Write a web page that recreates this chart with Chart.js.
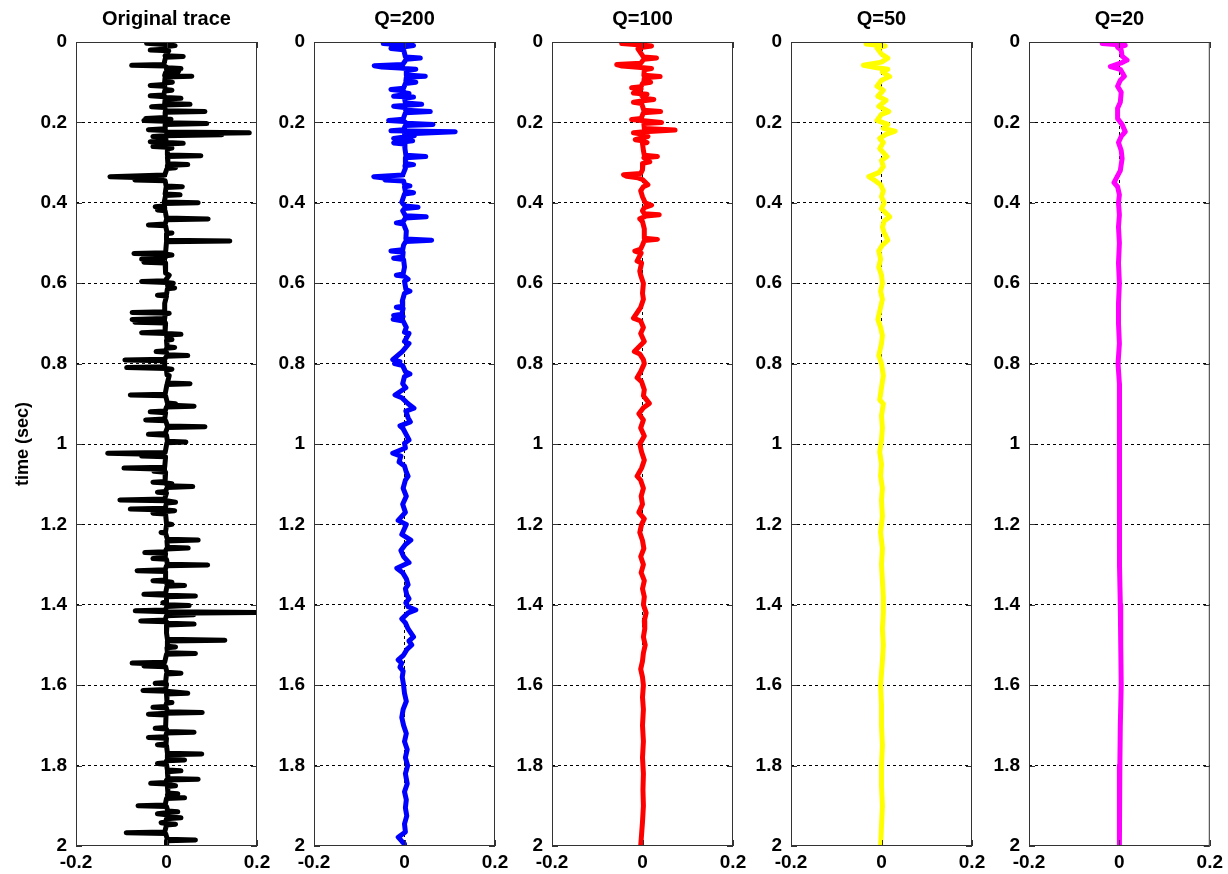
<!DOCTYPE html>
<html>
<head>
<meta charset="utf-8">
<title>Q attenuation traces</title>
<script src="https://cdn.jsdelivr.net/npm/chart.js@4.4.0/dist/chart.umd.min.js"></script>
<style>
    body { margin: 0; background: #fff; }
    #wrap { position: relative; width: 1228px; height: 874px; }
    #wrap canvas { position: absolute; left: 0; top: 0; }
</style>
</head>
<body>
<div id="wrap"></div>
<script>
// [time (s), amplitude] samples
var origTrace = [
    [0.000, -0.012],
    [0.003, -0.044], [0.006, -0.004], [0.009, 0.019], [0.012, -0.002],
    [0.018, -0.004], [0.020, -0.036], [0.022, 0.005],
    [0.034, -0.003], [0.036, 0.037], [0.038, -0.002],
    [0.056, -0.006], [0.058, -0.077], [0.060, -0.004],
    [0.064, 0.002], [0.066, 0.032], [0.068, 0.000], [0.070, 0.028], [0.074, 0.026], [0.076, -0.002],
    [0.083, -0.004], [0.085, 0.056], [0.087, -0.003],
    [0.098, -0.004], [0.100, 0.013], [0.102, -0.005],
    [0.106, -0.005], [0.108, -0.036], [0.110, -0.004],
    [0.118, -0.003], [0.120, 0.012], [0.122, -0.004],
    [0.132, -0.006], [0.134, -0.036], [0.136, -0.004],
    [0.138, -0.002], [0.140, 0.032], [0.142, -0.003],
    [0.153, -0.004], [0.155, 0.052], [0.157, -0.003],
    [0.159, -0.005], [0.161, -0.033], [0.163, -0.004],
    [0.171, -0.002], [0.173, 0.085], [0.175, -0.002],
    [0.188, -0.003], [0.190, -0.046], [0.192, 0.010], [0.195, -0.050], [0.197, -0.004],
    [0.201, -0.002], [0.203, 0.089], [0.205, -0.002],
    [0.216, -0.003], [0.218, -0.040], [0.220, -0.002],
    [0.224, 0.000], [0.226, 0.183], [0.229, 0.000], [0.231, 0.122], [0.233, -0.004], [0.235, -0.030], [0.237, -0.002],
    [0.246, -0.001], [0.248, -0.036], [0.250, 0.000], [0.252, 0.037], [0.254, 0.000],
    [0.258, 0.001], [0.260, -0.030], [0.262, 0.001], [0.264, 0.012], [0.266, 0.002],
    [0.281, 0.002], [0.283, 0.076], [0.285, 0.002],
    [0.303, 0.003], [0.305, 0.047], [0.307, 0.002],
    [0.311, 0.002], [0.313, 0.020], [0.315, 0.001],
    [0.331, -0.004], [0.335, -0.125], [0.339, -0.010], [0.343, -0.070], [0.345, -0.003],
    [0.358, -0.001], [0.360, 0.035], [0.362, -0.001],
    [0.378, -0.003], [0.380, 0.030], [0.382, -0.002],
    [0.398, -0.005], [0.400, 0.070], [0.402, -0.004],
    [0.408, -0.006], [0.410, -0.025], [0.412, -0.005],
    [0.416, -0.004], [0.418, -0.020], [0.420, -0.003],
    [0.438, 0.000], [0.440, 0.092], [0.442, 0.000],
    [0.453, -0.003], [0.455, -0.040], [0.457, -0.002],
    [0.473, 0.001], [0.475, 0.012], [0.477, 0.000],
    [0.493, 0.000], [0.495, 0.140], [0.497, 0.000],
    [0.524, -0.002], [0.526, -0.072], [0.528, 0.000], [0.530, 0.012], [0.532, 0.000],
    [0.538, -0.004], [0.540, -0.055], [0.544, -0.020], [0.548, -0.050], [0.550, -0.003],
    [0.575, -0.002], [0.580, 0.006],
    [0.594, -0.003], [0.596, -0.055], [0.598, 0.000], [0.600, 0.015], [0.602, 0.002],
    [0.610, 0.003], [0.612, 0.018], [0.614, 0.002],
    [0.628, 0.000], [0.630, -0.020], [0.632, 0.000],
    [0.650, -0.004],
    [0.671, -0.004], [0.673, -0.076], [0.675, 0.006], [0.677, -0.003],
    [0.688, -0.004], [0.690, -0.076], [0.693, -0.010], [0.697, -0.070], [0.699, -0.002],
    [0.721, -0.003], [0.723, -0.055], [0.725, 0.000], [0.727, 0.032], [0.729, 0.000],
    [0.738, 0.001], [0.740, 0.012], [0.742, 0.000],
    [0.758, 0.001], [0.760, 0.018], [0.762, 0.000],
    [0.768, -0.002], [0.770, -0.023], [0.772, 0.000],
    [0.778, 0.002], [0.780, 0.047], [0.782, 0.000],
    [0.789, -0.004], [0.791, -0.092], [0.793, -0.004],
    [0.808, -0.004], [0.810, -0.088], [0.812, 0.000], [0.814, 0.012], [0.816, 0.000],
    [0.828, 0.001], [0.830, 0.006],
    [0.848, 0.002], [0.850, 0.052], [0.852, 0.001],
    [0.876, -0.003], [0.878, -0.080], [0.880, -0.002],
    [0.898, 0.002], [0.900, 0.020], [0.903, 0.002], [0.906, 0.061], [0.908, 0.000],
    [0.918, -0.003], [0.920, -0.036], [0.922, -0.002],
    [0.938, -0.004], [0.940, -0.046], [0.942, -0.002],
    [0.955, 0.002], [0.957, 0.085], [0.959, 0.002],
    [0.974, -0.003], [0.976, -0.040], [0.978, 0.000],
    [0.993, 0.002], [0.995, 0.043], [0.997, 0.001],
    [1.021, -0.003], [1.023, -0.130], [1.026, -0.010], [1.030, -0.055], [1.032, -0.002],
    [1.058, -0.004], [1.060, -0.094], [1.063, -0.006], [1.068, -0.028], [1.070, -0.002],
    [1.093, -0.003], [1.095, -0.030], [1.097, 0.000], [1.099, 0.012], [1.101, 0.000],
    [1.104, 0.002], [1.106, 0.058], [1.108, 0.002],
    [1.118, -0.003], [1.120, -0.020], [1.122, 0.000],
    [1.137, -0.004], [1.139, -0.103], [1.141, 0.000], [1.145, 0.020], [1.147, 0.000],
    [1.160, -0.003], [1.162, -0.080], [1.164, 0.000], [1.166, 0.018], [1.168, -0.002], [1.172, -0.030], [1.174, -0.002],
    [1.198, 0.000], [1.200, 0.012], [1.202, 0.000],
    [1.218, -0.002], [1.220, -0.012], [1.222, -0.002],
    [1.237, 0.002], [1.239, 0.070], [1.241, 0.001],
    [1.257, 0.002], [1.259, 0.048], [1.261, 0.000],
    [1.268, -0.003], [1.270, -0.048], [1.272, -0.002],
    [1.283, -0.003], [1.285, -0.030], [1.287, 0.000],
    [1.299, 0.002], [1.301, 0.091], [1.303, 0.000],
    [1.313, -0.003], [1.315, -0.065], [1.317, -0.002],
    [1.338, -0.002], [1.340, -0.030], [1.342, 0.000], [1.344, 0.012], [1.346, 0.000],
    [1.350, 0.002], [1.352, 0.040], [1.354, 0.001],
    [1.372, -0.002], [1.374, -0.050], [1.376, 0.000], [1.378, 0.064], [1.380, 0.000],
    [1.393, 0.000], [1.395, -0.008], [1.397, 0.000],
    [1.400, 0.002], [1.402, 0.050], [1.404, 0.001],
    [1.413, -0.003], [1.415, -0.069], [1.417, 0.000], [1.419, 0.200], [1.421, 0.002], [1.425, 0.060], [1.427, 0.000],
    [1.438, -0.003], [1.440, -0.057], [1.442, 0.000],
    [1.446, 0.002], [1.448, 0.061], [1.450, 0.001],
    [1.470, 0.000],
    [1.486, 0.002], [1.488, 0.129], [1.490, 0.002],
    [1.503, 0.002], [1.505, 0.020], [1.507, 0.001],
    [1.519, 0.002], [1.521, 0.064], [1.523, 0.000],
    [1.543, -0.004], [1.545, -0.076], [1.548, -0.008], [1.552, -0.050], [1.554, -0.002],
    [1.568, 0.001], [1.570, 0.032], [1.572, 0.000],
    [1.593, -0.002], [1.595, -0.025], [1.597, 0.000],
    [1.611, -0.002], [1.613, -0.052], [1.615, 0.000], [1.620, 0.047], [1.622, 0.000],
    [1.641, 0.001], [1.643, 0.012], [1.645, 0.000],
    [1.653, -0.002], [1.655, -0.030], [1.657, 0.000],
    [1.666, 0.002], [1.668, 0.079], [1.670, 0.000], [1.672, -0.040], [1.674, -0.001],
    [1.705, -0.002], [1.707, -0.025], [1.709, 0.000],
    [1.715, 0.002], [1.717, 0.061], [1.719, 0.000],
    [1.728, -0.002], [1.730, -0.040], [1.732, 0.000],
    [1.746, -0.001], [1.748, -0.020], [1.750, 0.000],
    [1.769, 0.002], [1.771, 0.078], [1.773, 0.002],
    [1.784, 0.002], [1.786, 0.040], [1.788, 0.000],
    [1.793, -0.002], [1.795, -0.020], [1.797, 0.000],
    [1.811, 0.002], [1.813, 0.032], [1.815, 0.002],
    [1.832, 0.003], [1.834, 0.070], [1.836, 0.000],
    [1.842, -0.002], [1.844, -0.035], [1.846, 0.000], [1.850, 0.020], [1.852, 0.002],
    [1.868, 0.003], [1.870, 0.025], [1.872, 0.002],
    [1.878, 0.003], [1.880, 0.040], [1.882, 0.000],
    [1.898, -0.003], [1.900, -0.063], [1.902, 0.000],
    [1.913, 0.003], [1.915, 0.025], [1.917, 0.000], [1.920, -0.020], [1.922, 0.000],
    [1.928, 0.002], [1.930, 0.032], [1.932, 0.000],
    [1.940, -0.002], [1.942, -0.012], [1.944, 0.000], [1.946, 0.020], [1.948, 0.000],
    [1.965, -0.004], [1.967, -0.089], [1.969, -0.002],
    [1.983, 0.002], [1.985, 0.064], [1.987, 0.001],
    [2.000, 0.000]
];

var q200Trace = [
    [0.000, -0.005],
    [0.004, -0.047], [0.007, -0.010], [0.009, 0.020], [0.012, 0.000], [0.016, -0.030], [0.019, -0.002],
    [0.037, 0.002], [0.040, 0.035], [0.043, 0.004],
    [0.056, -0.004], [0.059, -0.067], [0.062, -0.050], [0.065, -0.010], [0.068, 0.025], [0.071, 0.004],
    [0.082, 0.004], [0.085, 0.046], [0.088, 0.004],
    [0.097, 0.003], [0.100, 0.025], [0.103, 0.002],
    [0.115, -0.002], [0.118, -0.030], [0.121, -0.003],
    [0.126, 0.000], [0.128, 0.010], [0.131, -0.002], [0.135, -0.024], [0.137, 0.020], [0.140, 0.000],
    [0.152, 0.002], [0.155, 0.038], [0.158, -0.003], [0.160, -0.024], [0.163, 0.000],
    [0.170, 0.003], [0.173, 0.057], [0.176, 0.002],
    [0.192, -0.003], [0.195, -0.035], [0.198, 0.000],
    [0.202, 0.004], [0.205, 0.063], [0.208, 0.002],
    [0.218, -0.002], [0.221, -0.030], [0.223, 0.112], [0.226, 0.060], [0.229, 0.000],
    [0.233, 0.022], [0.236, 0.000], [0.240, -0.024], [0.243, -0.002],
    [0.246, 0.018], [0.249, -0.004], [0.251, -0.024], [0.254, 0.000],
    [0.265, 0.001],
    [0.282, 0.003], [0.285, 0.047], [0.288, 0.003],
    [0.302, 0.002], [0.305, 0.020], [0.308, 0.001],
    [0.314, 0.002],
    [0.331, -0.004], [0.335, -0.068], [0.339, -0.040], [0.343, -0.043], [0.346, -0.002],
    [0.355, 0.000], [0.358, 0.012], [0.361, 0.000],
    [0.372, 0.002], [0.375, 0.020], [0.378, 0.000],
    [0.398, -0.006], [0.402, -0.004],
    [0.408, 0.002], [0.411, 0.030], [0.414, 0.000],
    [0.420, -0.004],
    [0.432, 0.002], [0.435, 0.048], [0.438, 0.002],
    [0.447, -0.003], [0.450, -0.018], [0.453, -0.002],
    [0.470, 0.004],
    [0.490, 0.003], [0.493, 0.060], [0.496, 0.003],
    [0.505, -0.002],
    [0.517, -0.004], [0.520, -0.030], [0.523, -0.003],
    [0.535, -0.004], [0.538, -0.024], [0.541, -0.002],
    [0.560, 0.000],
    [0.577, -0.003], [0.580, -0.018], [0.583, 0.000],
    [0.590, 0.008], [0.595, 0.000],
    [0.615, 0.003], [0.620, 0.012], [0.625, 0.000],
    [0.645, -0.005],
    [0.657, -0.004], [0.660, -0.018], [0.663, -0.003],
    [0.677, -0.006], [0.680, -0.024], [0.683, -0.003], [0.690, -0.025], [0.694, -0.003],
    [0.710, 0.004], [0.722, 0.000], [0.725, 0.010],
    [0.745, 0.000], [0.750, 0.010], [0.770, -0.005],
    [0.790, -0.026], [0.795, -0.010], [0.800, -0.022], [0.805, -0.004],
    [0.820, 0.002], [0.826, 0.012], [0.832, 0.000],
    [0.850, -0.004], [0.860, 0.003],
    [0.878, -0.021], [0.885, -0.006],
    [0.900, 0.008], [0.911, 0.021], [0.918, 0.003],
    [0.935, 0.008], [0.945, 0.013], [0.955, -0.010], [0.962, -0.003],
    [0.975, 0.003], [0.990, 0.010], [0.998, 0.000], [1.010, 0.002],
    [1.023, -0.026], [1.030, -0.008], [1.045, -0.012], [1.055, 0.000],
    [1.070, 0.004], [1.080, 0.008], [1.090, 0.002],
    [1.110, -0.003], [1.130, 0.004], [1.150, -0.004], [1.170, 0.002],
    [1.190, -0.014], [1.200, 0.004], [1.210, 0.000], [1.225, -0.006],
    [1.239, 0.014], [1.250, 0.002], [1.265, -0.008], [1.280, -0.002],
    [1.295, 0.010], [1.309, -0.017], [1.320, -0.004],
    [1.335, 0.004], [1.350, 0.008], [1.360, 0.002],
    [1.375, 0.005], [1.385, 0.010], [1.395, 0.003],
    [1.405, 0.008], [1.413, 0.025], [1.420, 0.008],
    [1.435, -0.006], [1.445, 0.002],
    [1.460, 0.008], [1.480, 0.020], [1.490, 0.010], [1.500, 0.016], [1.510, 0.006],
    [1.525, -0.002], [1.537, -0.014], [1.545, -0.006], [1.555, -0.010], [1.565, -0.003],
    [1.580, -0.005], [1.600, -0.002], [1.620, 0.000], [1.640, 0.004],
    [1.660, -0.003], [1.680, -0.006], [1.700, -0.002], [1.720, 0.004],
    [1.740, 0.000], [1.760, 0.006], [1.780, 0.002], [1.800, 0.007],
    [1.820, 0.002], [1.845, 0.006], [1.865, 0.000], [1.885, 0.004],
    [1.905, 0.002], [1.925, 0.005], [1.945, 0.000], [1.965, 0.002],
    [1.978, -0.014], [1.988, -0.006], [1.995, 0.000], [2.000, 0.000]
];

var q100Trace = [
    [0.000, -0.004],
    [0.004, -0.046], [0.007, -0.010], [0.010, 0.020], [0.013, 0.000], [0.017, -0.010],
    [0.037, 0.002], [0.040, 0.031], [0.043, 0.003],
    [0.053, -0.004], [0.056, -0.057], [0.060, -0.045], [0.063, -0.010], [0.066, 0.020], [0.069, 0.004],
    [0.083, 0.003], [0.086, 0.039], [0.089, 0.004],
    [0.098, 0.003], [0.100, 0.018], [0.103, 0.000],
    [0.111, -0.003], [0.114, -0.024], [0.117, -0.003],
    [0.127, -0.020], [0.130, 0.010], [0.133, -0.002],
    [0.140, 0.003], [0.143, 0.025], [0.146, 0.002], [0.150, -0.020], [0.153, -0.002],
    [0.170, 0.003], [0.173, 0.040], [0.176, 0.002],
    [0.190, -0.003], [0.193, -0.024], [0.196, 0.003], [0.200, 0.042], [0.203, 0.003],
    [0.215, 0.004], [0.219, 0.072], [0.223, 0.004],
    [0.226, -0.020], [0.229, -0.002], [0.235, 0.012], [0.238, 0.000],
    [0.243, -0.016], [0.246, 0.000], [0.250, 0.010], [0.253, 0.000],
    [0.270, 0.002],
    [0.282, 0.004], [0.285, 0.033], [0.288, 0.003],
    [0.298, 0.016], [0.302, 0.001], [0.318, 0.000],
    [0.327, -0.004], [0.330, -0.042], [0.334, -0.035], [0.338, -0.010], [0.342, 0.000],
    [0.355, 0.012], [0.360, 0.002], [0.370, -0.004], [0.385, 0.000],
    [0.400, 0.006], [0.406, 0.020], [0.412, 0.004], [0.420, 0.000],
    [0.427, 0.004], [0.430, 0.037], [0.433, 0.008],
    [0.440, -0.006], [0.447, 0.000], [0.465, 0.004],
    [0.488, 0.004], [0.491, 0.033], [0.494, 0.004],
    [0.505, 0.000],
    [0.515, -0.004], [0.520, -0.017], [0.525, -0.003],
    [0.545, -0.012], [0.550, -0.002], [0.570, -0.006], [0.580, -0.004],
    [0.600, 0.002], [0.625, 0.000], [0.640, 0.002], [0.660, -0.004],
    [0.687, -0.020], [0.694, -0.004], [0.710, 0.002], [0.725, -0.004],
    [0.745, 0.004], [0.770, -0.018], [0.776, -0.006],
    [0.790, 0.002], [0.800, 0.004], [0.820, -0.004], [0.835, -0.012], [0.845, -0.002],
    [0.865, 0.004], [0.880, 0.002], [0.899, 0.015], [0.910, 0.002],
    [0.925, -0.008], [0.940, 0.002], [0.960, -0.004], [0.980, 0.004],
    [1.000, -0.006], [1.020, -0.002], [1.040, 0.004], [1.060, -0.002],
    [1.080, -0.012], [1.090, -0.004], [1.110, 0.002], [1.130, -0.003],
    [1.150, 0.000], [1.170, -0.008], [1.186, 0.004], [1.200, -0.002],
    [1.220, -0.006], [1.240, 0.000], [1.260, 0.003], [1.280, -0.004],
    [1.300, 0.002], [1.320, -0.003], [1.340, 0.004], [1.360, 0.000],
    [1.380, 0.004], [1.400, 0.002], [1.420, 0.008], [1.440, 0.004],
    [1.460, 0.005], [1.480, 0.002], [1.500, 0.006], [1.520, 0.002],
    [1.540, 0.000], [1.560, -0.004], [1.580, 0.000], [1.600, 0.002],
    [1.630, 0.000], [1.660, 0.002], [1.700, 0.000], [1.740, 0.002],
    [1.780, 0.000], [1.820, 0.002], [1.860, 0.001], [1.900, 0.002],
    [1.940, 0.000], [1.970, -0.002], [2.000, -0.004]
];

var q50Trace = [
    [0.000, -0.020], [0.005, -0.034], [0.010, 0.008], [0.015, -0.010],
    [0.030, 0.000], [0.040, 0.014], [0.050, 0.000],
    [0.058, -0.040], [0.064, -0.010], [0.068, 0.014], [0.075, 0.002],
    [0.086, 0.018], [0.095, 0.000], [0.110, -0.010], [0.120, 0.004],
    [0.135, -0.008], [0.145, 0.010], [0.160, -0.006], [0.173, 0.016], [0.180, 0.000],
    [0.195, -0.010], [0.205, 0.014], [0.215, 0.004],
    [0.222, 0.030], [0.230, 0.010], [0.240, -0.004],
    [0.250, 0.004], [0.265, -0.004], [0.285, 0.012], [0.295, 0.000],
    [0.310, 0.004], [0.325, -0.006],
    [0.335, -0.028], [0.345, -0.014], [0.355, -0.002],
    [0.370, 0.004], [0.385, 0.000], [0.400, 0.006], [0.415, 0.000],
    [0.435, 0.018], [0.445, 0.006], [0.460, 0.002], [0.475, 0.006],
    [0.493, 0.014], [0.505, 0.002], [0.520, -0.006], [0.540, -0.002],
    [0.560, -0.006], [0.580, 0.000], [0.600, 0.002], [0.620, -0.002],
    [0.640, 0.002], [0.660, -0.002], [0.690, -0.008], [0.710, -0.002],
    [0.730, 0.002], [0.750, 0.000], [0.780, -0.006], [0.800, 0.000],
    [0.830, 0.004], [0.860, 0.000], [0.890, -0.004], [0.900, 0.004], [0.930, 0.000],
    [0.960, 0.002], [0.990, 0.000], [1.020, -0.004], [1.050, 0.000],
    [1.080, -0.002], [1.110, 0.002], [1.140, 0.000], [1.180, 0.002],
    [1.220, -0.002], [1.260, 0.002], [1.300, 0.000], [1.340, 0.002],
    [1.380, 0.004], [1.420, 0.004], [1.460, 0.002], [1.500, 0.004],
    [1.540, 0.002], [1.570, 0.000], [1.600, -0.002], [1.650, 0.000],
    [1.700, 0.000], [1.750, 0.002], [1.800, 0.000], [1.850, 0.000],
    [1.900, 0.002], [1.950, 0.000], [2.000, -0.002]
];

var q20Trace = [
    [0.000, -0.014], [0.004, -0.038], [0.008, 0.013], [0.013, -0.004], [0.020, 0.004],
    [0.035, 0.006], [0.045, 0.017], [0.052, 0.004],
    [0.061, -0.020], [0.068, 0.002], [0.085, 0.011], [0.095, 0.002],
    [0.110, -0.004], [0.125, 0.004], [0.150, 0.002], [0.165, -0.004],
    [0.190, -0.004], [0.205, 0.006], [0.223, 0.013], [0.235, 0.004],
    [0.250, -0.002], [0.270, 0.004], [0.290, 0.006], [0.305, 0.004], [0.320, 0.002],
    [0.350, -0.012], [0.360, -0.004], [0.380, 0.000], [0.400, -0.002],
    [0.430, 0.000], [0.460, -0.002], [0.500, 0.000], [0.550, -0.002],
    [0.600, 0.000], [0.650, -0.002], [0.700, -0.002], [0.750, 0.000],
    [0.800, -0.003], [0.850, 0.000], [0.900, 0.000], [1.000, 0.000],
    [1.100, 0.000], [1.200, 0.000], [1.300, 0.001], [1.400, 0.002],
    [1.500, 0.003], [1.600, 0.004], [1.700, 0.002], [1.800, 0.001],
    [1.900, 0.000], [2.000, 0.000]
];

var panelTitles = ['Original trace', 'Q=200', 'Q=100', 'Q=50', 'Q=20'];
var panelColors = ['#000000', '#0000ff', '#ff0000', '#ffff00', '#ff00ff'];
var panelTraces = [origTrace, q200Trace, q100Trace, q50Trace, q20Trace];
var timeTicks = [0, 0.2, 0.4, 0.6, 0.8, 1, 1.2, 1.4, 1.6, 1.8, 2];
var ampTicks = [-0.2, 0, 0.2];

(function () {
    "use strict";

    var W = 1228, H = 874;
    var FONT = '"Liberation Sans", Arial, Helvetica, sans-serif';
    // plot box of each panel (matlab subplot layout)
    var boxLefts = [76, 314, 552, 791, 1029];
    var boxWidth = 181, boxTop = 42, boxBottom = 846;

    Chart.defaults.font.family = FONT;
    Chart.defaults.color = '#000';

    // title above each axes box
    var panelTitlePlugin = {
        id: 'panelTitle',
        afterDraw: function (chart, args, opts) {
            var ctx = chart.ctx, a = chart.chartArea;
            ctx.save();
            ctx.font = 'bold 20px ' + FONT;
            ctx.fillStyle = '#000';
            ctx.textAlign = 'center';
            ctx.textBaseline = 'middle';
            ctx.fillText(opts.text, (a.left + a.right) / 2, 19);
            ctx.restore();
        }
    };

    // box + inward tick marks like matlab axes
    var boxPlugin = {
        id: 'matlabBox',
        afterDatasetsDraw: function (chart) {
            var ctx = chart.ctx, a = chart.chartArea;
            var xs = chart.scales.x, ys = chart.scales.y;
            var len = 6;
            ctx.save();
            ctx.strokeStyle = '#333';
            ctx.lineWidth = 1;
            ctx.strokeRect(a.left + 0.5, a.top + 0.5, a.right - a.left - 1, a.bottom - a.top - 1);
            ctx.beginPath();
            ys.ticks.forEach(function (t) {
                var y = Math.round(ys.getPixelForValue(t.value)) + 0.5;
                ctx.moveTo(a.left, y); ctx.lineTo(a.left + len, y);
                ctx.moveTo(a.right, y); ctx.lineTo(a.right - len, y);
            });
            xs.ticks.forEach(function (t) {
                var x = Math.round(xs.getPixelForValue(t.value)) + 0.5;
                ctx.moveTo(x, a.top); ctx.lineTo(x, a.top + len);
                ctx.moveTo(x, a.bottom); ctx.lineTo(x, a.bottom - len);
            });
            ctx.stroke();
            ctx.restore();
        }
    };

    function fmt(v) {
        return String(+Number(v).toFixed(1));
    }

    // dotted grid only inside the box, the box itself is drawn by the plugin
    function innerGrid(lo, hi) {
        return function (c) {
            var v = c.tick ? c.tick.value : null;
            return (v === lo || v === hi) ? 'rgba(0,0,0,0)' : '#000';
        };
    }

    function buildPanel(i) {
        var canvas = document.createElement('canvas');
        canvas.width = W;
        canvas.height = H;
        document.getElementById('wrap').appendChild(canvas);

        var yw = i === 0 ? 68 : 60;
        var xh = H - boxBottom;
        var left = boxLefts[i];

        var points = panelTraces[i].map(function (p) {
            return { x: p[1], y: p[0] };
        });

        return new Chart(canvas.getContext('2d'), {
            type: 'scatter',
            data: {
                datasets: [{
                    data: points,
                    showLine: true,
                    borderColor: panelColors[i],
                    backgroundColor: panelColors[i],
                    borderWidth: 5,
                    pointRadius: 0,
                    tension: 0,
                    borderJoinStyle: 'round',
                    borderCapStyle: 'round'
                }]
            },
            options: {
                responsive: false,
                devicePixelRatio: 1,
                animation: false,
                events: [],
                layout: {
                    padding: { left: left - yw, right: W - left - boxWidth, top: boxTop, bottom: 0 }
                },
                plugins: {
                    legend: { display: false },
                    tooltip: { enabled: false },
                    panelTitle: { text: panelTitles[i] }
                },
                scales: {
                    x: {
                        type: 'linear',
                        min: -0.2,
                        max: 0.2,
                        afterBuildTicks: function (s) {
                            s.ticks = ampTicks.map(function (v) { return { value: v }; });
                        },
                        afterFit: function (s) { s.height = xh; },
                        ticks: {
                            callback: fmt,
                            autoSkip: false,
                            maxRotation: 0,
                            padding: 5,
                            font: { size: 19, weight: 'bold' }
                        },
                        grid: { color: innerGrid(-0.2, 0.2), lineWidth: 1, drawTicks: false },
                        border: { display: false, dash: [3, 3] }
                    },
                    y: {
                        type: 'linear',
                        reverse: true,
                        min: 0,
                        max: 2,
                        afterBuildTicks: function (s) {
                            s.ticks = timeTicks.map(function (v) { return { value: v }; });
                        },
                        afterFit: function (s) { s.width = yw; },
                        title: {
                            display: i === 0,
                            text: 'time (sec)',
                            font: { size: 18, weight: 'bold' },
                            padding: { top: 4, bottom: 0 }
                        },
                        ticks: {
                            callback: fmt,
                            autoSkip: false,
                            padding: 9,
                            font: { size: 19, weight: 'bold' }
                        },
                        grid: { color: innerGrid(0, 2), lineWidth: 1, drawTicks: false },
                        border: { display: false, dash: [3, 3] }
                    }
                }
            },
            plugins: [panelTitlePlugin, boxPlugin]
        });
    }

    for (var i = 0; i < panelTraces.length; i++) {
        buildPanel(i);
    }
})();
</script>
</body>
</html>
